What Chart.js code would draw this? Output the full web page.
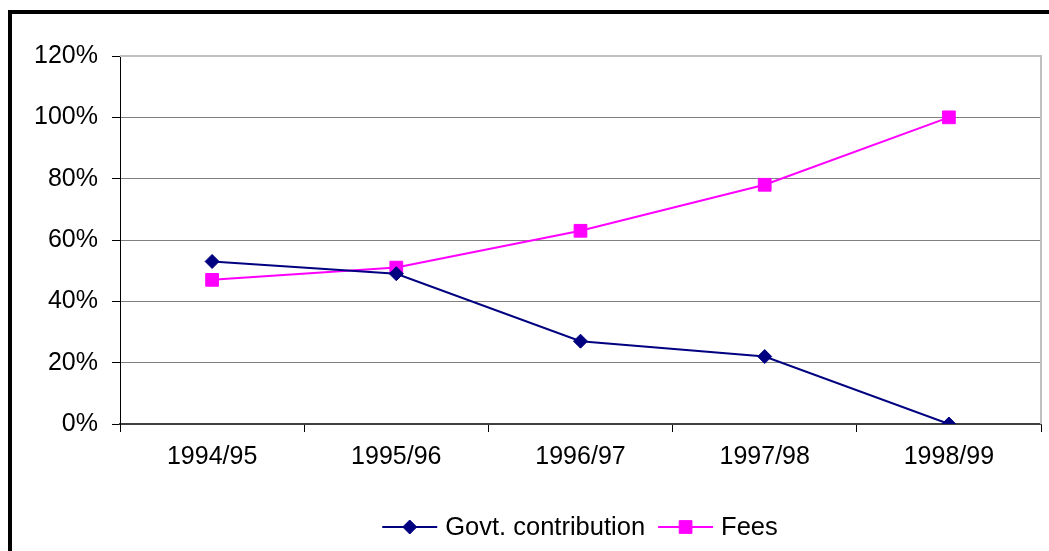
<!DOCTYPE html>
<html>
<head>
<meta charset="utf-8">
<script src="https://cdn.jsdelivr.net/npm/chart.js@4/dist/chart.umd.min.js"></script>
<style>
  html, body { margin: 0; padding: 0; background: #fff; overflow: hidden; }
  #wrap { width: 1049px; height: 551px; }
</style>
</head>
<body>
<div id="wrap"><canvas id="fundingChart" width="1049" height="551"></canvas></div>
<script>
const years = ['1994/95', '1995/96', '1996/97', '1997/98', '1998/99'];
const govtContribution = [53, 49, 27, 22, 0];
const fees = [47, 51, 63, 78, 100];
const yTicks = [0, 20, 40, 60, 80, 100, 120];

const FONT = '"Liberation Sans", Arial, sans-serif';

// outer frame + light-gray plot border (top/right)
const framePlugin = {
    id: 'frame',
    beforeDraw(chart) {
        const { ctx } = chart;
        ctx.save();
        ctx.fillStyle = '#fff';
        ctx.fillRect(0, 0, chart.width, chart.height);
        ctx.strokeStyle = '#000';
        ctx.lineWidth = 4;
        ctx.strokeRect(10, 12, chart.width + 20, chart.height + 20);
        ctx.restore();
    },
    beforeDatasetsDraw(chart) {
        const { ctx, chartArea: a } = chart;
        ctx.save();
        ctx.strokeStyle = '#c0c0c0';
        ctx.lineWidth = 2;
        ctx.beginPath();
        ctx.moveTo(a.left, a.top);
        ctx.lineTo(a.right, a.top);
        ctx.lineTo(a.right, a.bottom);
        ctx.stroke();
        ctx.restore();
    }
};

function drawMarker(ctx, style, r, x, y) {
    if (style === 'rectRot') {
        ctx.moveTo(x - r, y);
        ctx.lineTo(x, y - r);
        ctx.lineTo(x + r, y);
        ctx.lineTo(x, y + r);
        ctx.closePath();
    } else {
        const s = Math.SQRT1_2 * r;
        ctx.rect(x - s, y - s, 2 * s, 2 * s);
    }
}

// legend with line + marker sample, like the spreadsheet original
const lineLegend = {
    id: 'lineLegend',
    afterDraw(chart) {
        const { ctx, chartArea: a } = chart;
        const y = 527, sample = 55, gapText = 8, gapItem = 13;
        ctx.save();
        ctx.font = '25.5px ' + FONT;
        const items = chart.data.datasets.map(ds => ({ ds, w: ctx.measureText(ds.label).width }));
        const total = items.reduce((s, it) => s + sample + gapText + it.w, 0) + gapItem * (items.length - 1);
        let x = 580 - total / 2;
        items.forEach(({ ds, w }) => {
            ctx.strokeStyle = ds.borderColor;
            ctx.lineWidth = 2;
            ctx.beginPath();
            ctx.moveTo(x, y);
            ctx.lineTo(x + sample, y);
            ctx.stroke();
            ctx.fillStyle = ds.pointBackgroundColor;
            ctx.lineWidth = 1;
            ctx.beginPath();
            drawMarker(ctx, ds.pointStyle, ds.pointRadius, x + sample / 2, y);
            ctx.fill();
            ctx.stroke();
            ctx.fillStyle = '#000';
            ctx.textBaseline = 'middle';
            ctx.fillText(ds.label, x + sample + gapText, y + 1);
            x += sample + gapText + w + gapItem;
        });
        ctx.restore();
    }
};

new Chart(document.getElementById('fundingChart'), {
    type: 'line',
    data: {
        labels: years,
        datasets: [
            {
                label: 'Govt. contribution',
                data: govtContribution,
                borderColor: '#000080',
                backgroundColor: '#000080',
                pointBackgroundColor: '#000080',
                pointBorderColor: '#000080',
                borderWidth: 2,
                pointStyle: 'rectRot',
                pointRadius: 7,
                pointBorderWidth: 1,
                tension: 0
            },
            {
                label: 'Fees',
                data: fees,
                borderColor: '#ff00ff',
                backgroundColor: '#ff00ff',
                pointBackgroundColor: '#ff00ff',
                pointBorderColor: '#ff00ff',
                borderWidth: 2,
                pointStyle: 'rect',
                pointRadius: 9,
                pointBorderWidth: 1,
                tension: 0
            }
        ]
    },
    options: {
        responsive: false,
        animation: false,
        layout: { autoPadding: false, padding: { top: 56, right: 8, left: 0, bottom: 0 } },
        plugins: {
            legend: { display: false },
            tooltip: { enabled: false }
        },
        scales: {
            x: {
                offset: true,
                grid: {
                    offset: true,
                    drawOnChartArea: false,
                    drawTicks: true,
                    tickLength: 8,
                    tickColor: '#000'
                },
                border: { color: '#404040', width: 2 },
                ticks: {
                    color: '#000',
                    font: { family: FONT, size: 25 },
                    padding: 10,
                    maxRotation: 0
                },
                afterFit(scale) { scale.height = 127; }
            },
            y: {
                min: 0,
                max: 120,
                afterBuildTicks(scale) { scale.ticks = yTicks.map(v => ({ value: v })); },
                grid: {
                    color: ctx => ctx.tick && ctx.tick.value === 120 ? 'rgba(0,0,0,0)' : '#808080',
                    lineWidth: 1,
                    tickLength: 8,
                    tickColor: '#000'
                },
                border: { color: '#000', width: 1 },
                ticks: {
                    color: '#000',
                    font: { family: FONT, size: 25 },
                    padding: 14,
                    callback: v => v + '%'
                },
                afterFit(scale) { scale.width = 120; }
            }
        }
    },
    plugins: [framePlugin, lineLegend]
});
</script>
</body>
</html>
